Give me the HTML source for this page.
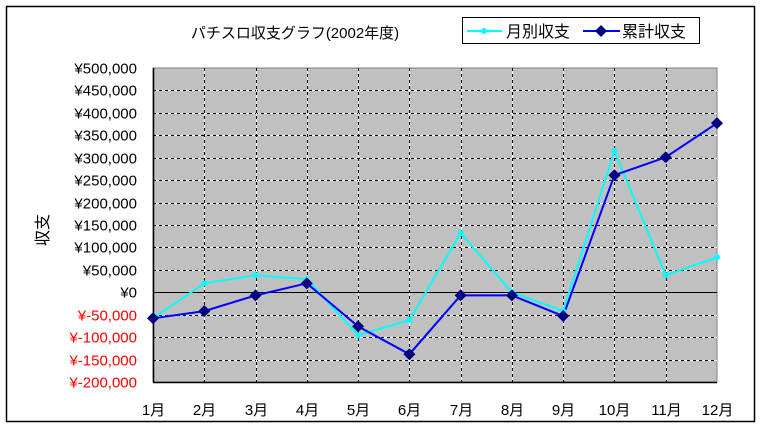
<!DOCTYPE html>
<html><head><meta charset="utf-8"><style>
body{margin:0;background:#fff;}
svg{display:block;font-family:"Liberation Sans","Noto Sans CJK JP",sans-serif;}
</style></head><body>
<svg id="chart" width="761" height="426">
<rect x="6.5" y="6.5" width="748" height="415" fill="#fff" stroke="#000" stroke-width="1.5"/>
<text x="295" y="38" font-size="15" text-anchor="middle">パチスロ収支グラフ(2002年度)</text>
<g>
<rect x="462.5" y="17.5" width="237" height="26" fill="#fff" stroke="#000"/>
<g>
<line x1="467" y1="31" x2="502" y2="31" stroke="#00ffff" stroke-width="2"/>
<circle cx="484" cy="31" r="3" fill="#00ffff"/>
<text x="506" y="37" font-size="16">月別収支</text>
</g>
<g>
<line x1="583" y1="31" x2="620" y2="31" stroke="#0000ff" stroke-width="2"/>
<path d="M601 25 L607 31 L601 37 L595 31Z" fill="#000080"/>
<text x="622" y="37" font-size="16">累計収支</text>
</g>
</g>
<text transform="translate(48,230) rotate(-90)" font-size="16" text-anchor="middle">収支</text>
<g id="plot"></g>
</svg>
<script>
const categories=["1月","2月","3月","4月","5月","6月","7月","8月","9月","10月","11月","12月"];
const monthly=[-58000,20000,38000,29000,-96000,-62000,132000,0,-42000,315000,38000,78000];
const cumulative=[-58000,-42000,-7000,20000,-76000,-138000,-7000,-7000,-53000,261000,301000,377000];
const yTicks=[500000,450000,400000,350000,300000,250000,200000,150000,100000,50000,0,-50000,-100000,-150000,-200000];
const X0=153,X1=717,Y0=68,Y1=382,YMAX=500000,YMIN=-200000;
const xs=i=>X0+(X1-X0)*i/(categories.length-1);
const ys=v=>Y0+(YMAX-v)/(YMAX-YMIN)*(Y1-Y0);
const NS="http://www.w3.org/2000/svg";
const g=document.getElementById('plot');
function mk(t,a){const e=document.createElementNS(NS,t);for(const k in a)e.setAttribute(k,a[k]);g.appendChild(e);return e;}
let e=mk('rect',{x:X0,y:Y0,width:X1-X0,height:Y1-Y0,fill:'#c0c0c0',stroke:'#808080'});


yTicks.forEach(v=>{
 const y=Math.round(ys(v))+0.5;
 if(v!==0&&v!==YMIN&&v!==YMAX){const l=mk('line',{x1:X0,x2:X1,y1:y,y2:y,stroke:'#000','stroke-dasharray':'3,3'});
 
 
 const w=mk('line',{x1:X0+3,x2:X1,y1:y,y2:y,stroke:'#fff','stroke-dasharray':'3,3'});
 
 }
 const t=mk('text',{x:137,y:y+5,'font-size':15,'text-anchor':'end',fill:v<0?'#ff0000':'#000'});
 t.textContent=v===0?'¥0':(v<0?'¥-':'¥')+Math.abs(v).toLocaleString('en-US');
 
 
});
categories.forEach((c,i)=>{
 const x=Math.round(xs(i))+0.5;
 if(i>0&&i<categories.length-1){const l=mk('line',{x1:x,x2:x,y1:Y0,y2:Y1,stroke:'#000','stroke-dasharray':'3,3'});
 
 
 const w=mk('line',{x1:x,x2:x,y1:Y0+3,y2:Y1,stroke:'#fff','stroke-dasharray':'3,3'});
 
 }
 const t=mk('text',{x:x,y:415,'font-size':15,'text-anchor':'middle'});
 t.textContent=c;
 
 
});
e=mk('line',{x1:X0,x2:X1,y1:Math.round(ys(0))+0.5,y2:Math.round(ys(0))+0.5,stroke:'#000'});


e=mk('line',{x1:X0+0.5,x2:X0+0.5,y1:Y0,y2:Y1,stroke:'#000','stroke-width':1.5});


e=mk('line',{x1:X0,x2:X1,y1:Y1+0.5,y2:Y1+0.5,stroke:'#000','stroke-width':1.5});


e=mk('polyline',{points:monthly.map((v,i)=>xs(i)+','+ys(v)).join(' '),fill:'none',stroke:'#00ffff','stroke-width':2});


e=mk('polyline',{points:cumulative.map((v,i)=>xs(i)+','+ys(v)).join(' '),fill:'none',stroke:'#0000ff','stroke-width':2});


monthly.forEach((v,i)=>{const c=mk('circle',{cx:xs(i),cy:ys(v),r:3,fill:'#00ffff'});
 
 });
cumulative.forEach((v,i)=>{const x=xs(i),y=ys(v);const p=mk('path',{d:`M${x} ${y-6}L${x+6} ${y}L${x} ${y+6}L${x-6} ${y}Z`,fill:'#000080'});
 
 });
</script>
</body></html>
